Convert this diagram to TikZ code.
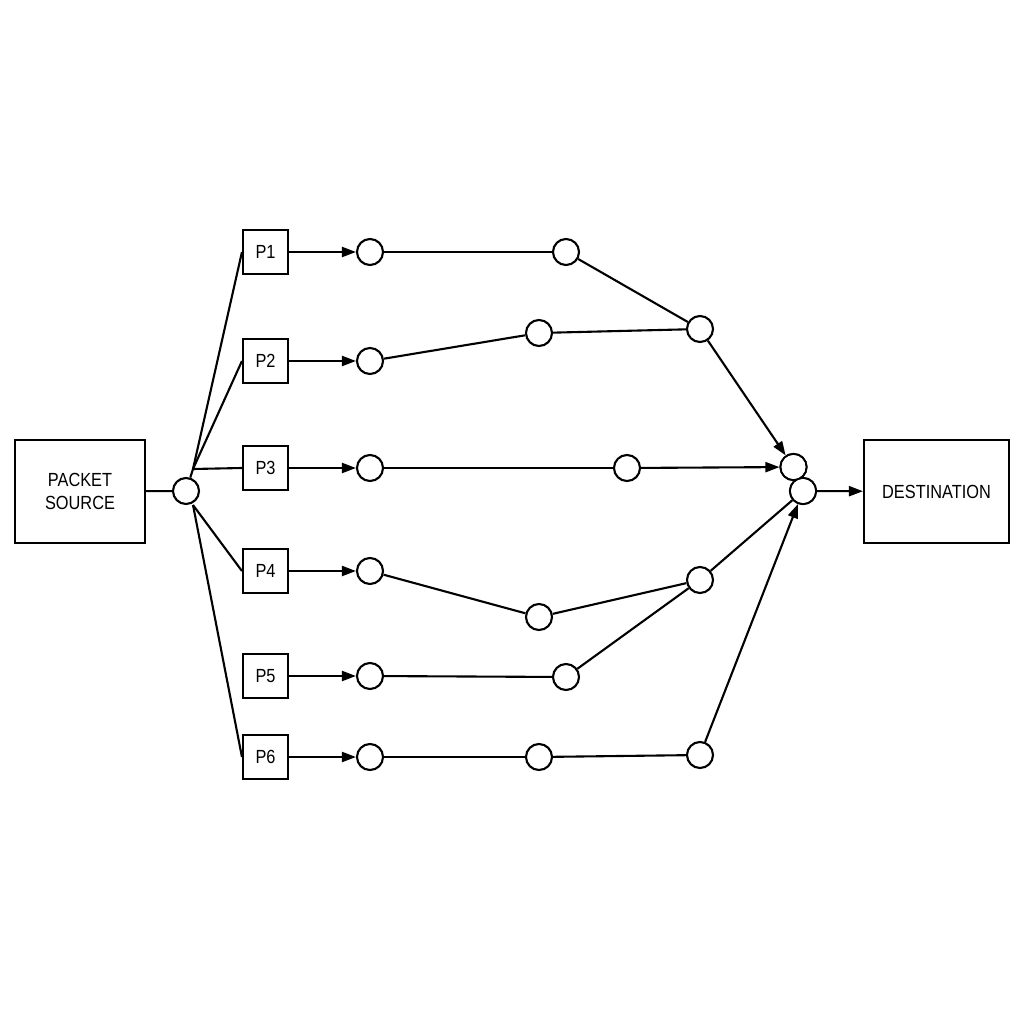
\documentclass[tikz,border=0pt]{standalone}
\usepackage{fontspec}
\usepackage{graphicx}
\setmainfont{Liberation Sans}
\usetikzlibrary{arrows.meta}
\newcommand\sqz[1]{\scalebox{0.86}[1]{#1}}
\begin{document}
\begin{tikzpicture}[x=1pt,y=-1pt,
  line width=2.1pt,
  bigbox/.style={draw,minimum width=130pt,minimum height=103pt,align=center,font=\fontsize{19}{22.5}\selectfont,inner sep=0pt},
  pbox/.style={draw,minimum width=45pt,minimum height=44pt,font=\fontsize{19}{22}\selectfont,inner sep=0pt},
  dot/.style={draw,circle,minimum size=26pt,inner sep=0pt,fill=white},
  arr/.style={-{Triangle[length=14pt,width=10pt]}}]
\useasboundingbox (0,0) rectangle (1024,1024);
\fill[white] (0,0) rectangle (1024,1024);
\node[bigbox] (src) at (80,491.5) {\sqz{PACKET}\\\sqz{SOURCE}};
\node[bigbox,minimum width=145pt] (dst) at (936.5,491.5) {\sqz{DESTINATION}};
\node[dot] (hub) at (186,491) {};
\foreach \i/\y in {1/252,2/361,3/468,4/571,5/676,6/757}{
  \node[pbox] (p\i) at (265.5,\y) {\sqz{P\i}};
  \node[dot] (a\i) at (370,\y) {};
}
\node[dot] (b1) at (566,252) {};
\node[dot] (b2) at (539,333) {};
\node[dot] (b3) at (627,468) {};
\node[dot] (b4) at (539,617) {};
\node[dot] (b5) at (566,677) {};
\node[dot] (b6) at (539,757) {};
\node[dot] (c1) at (700,329) {};
\node[dot] (c2) at (700,580) {};
\node[dot] (c3) at (700,755) {};
\node[dot] (d1) at (793.5,467) {};
\node[dot] (d2) at (803,491) {};
\coordinate (htop) at (193,469);
\coordinate (hbot) at (193,505);
% source to hub
\draw (src) -- (hub);
\draw (hub) -- (htop);
\draw (htop) -- (p1.west);
\draw (htop) -- (p2.west);
\draw (htop) -- (p3.west);
\draw (hbot) -- (p4.west);
\draw (hbot) -- (p6.west);
% P boxes to first circles
\foreach \i in {1,...,6}{\draw[arr] (p\i) -- (a\i);}
% rows
\draw (a1) -- (b1);
\draw (b1) -- (c1);
\draw (a2) -- (b2);
\draw (b2) -- (c1);
\draw[arr] (c1) -- (d1);
\draw (a3) -- (b3);
\draw[arr] (b3) -- (d1);
\draw (a4) -- (b4);
\draw (b4) -- (c2);
\draw (a5) -- (b5);
\draw (b5) -- (c2);
\draw (c2) -- (d2);
\draw (a6) -- (b6);
\draw (b6) -- (c3);
\draw[arr] (c3) -- (d2);
\draw[arr] (d2) -- (dst);
% merged outline of the two destination circles
\draw[fill=white] (d1) circle (13pt);
\draw[fill=white] (d2) circle (13pt);
\fill[white] (d1) circle (11.9pt);
\fill[white] (d2) circle (11.9pt);
\end{tikzpicture}
\end{document}
